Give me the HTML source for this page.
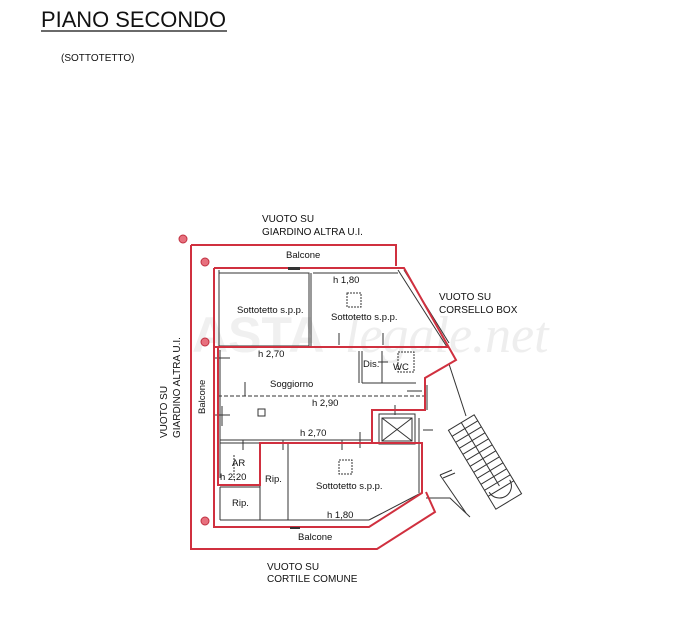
<!DOCTYPE html>
<html><head><meta charset="utf-8"><style>
html,body{margin:0;padding:0;background:#fff;width:683px;height:624px;overflow:hidden}
svg{display:block}
text{font-family:"Liberation Sans",sans-serif;fill:#111}
</style></head><body>
<svg width="683" height="624" viewBox="0 0 683 624" xmlns="http://www.w3.org/2000/svg">
<text x="41" y="27" font-size="22" textLength="185" lengthAdjust="spacingAndGlyphs">PIANO SECONDO</text>
<line x1="41" y1="31" x2="227" y2="31" stroke="#111" stroke-width="1.3"/>
<text x="61" y="61" font-size="10">(SOTTOTETTO)</text>

<text x="192" y="352" font-size="50" font-weight="bold" style="fill:#f0f0f0">ASTA</text>
<text x="345" y="352" font-size="52" font-style="italic" style="fill:#eeeeee;font-family:'Liberation Serif',serif">legale.net</text>

<text x="262" y="222" font-size="10">VUOTO SU</text>
<text x="262" y="235" font-size="10">GIARDINO ALTRA U.I.</text>
<text x="439" y="300" font-size="10">VUOTO SU</text>
<text x="439" y="313" font-size="10">CORSELLO BOX</text>
<text x="267" y="570" font-size="10">VUOTO SU</text>
<text x="267" y="582" font-size="10">CORTILE COMUNE</text>
<text transform="translate(167,438) rotate(-90)" font-size="10">VUOTO SU</text>
<text transform="translate(180,438) rotate(-90)" font-size="10">GIARDINO ALTRA U.I.</text>

<g fill="none" stroke="#333" stroke-width="1">
<rect x="219" y="273" width="90" height="73"/>
<line x1="311" y1="273" x2="311" y2="346"/>
<line x1="313" y1="273" x2="398" y2="273"/>
<line x1="398" y1="270" x2="447" y2="347"/>
<line x1="219" y1="270" x2="219" y2="345"/>
<rect x="347" y="293" width="14" height="14" stroke-dasharray="2,1"/>
<rect x="398" y="352" width="16" height="20" stroke-dasharray="2,1"/>
<line x1="359" y1="351" x2="359" y2="383"/>
<line x1="362" y1="351" x2="362" y2="383"/>
<line x1="362" y1="383" x2="416" y2="383"/>
<line x1="382" y1="351" x2="382" y2="383"/>
<line x1="218" y1="396" x2="425" y2="396" stroke-dasharray="4,2"/>
<line x1="220" y1="350" x2="220" y2="478"/>
<rect x="258" y="409" width="7" height="7"/>
<line x1="220" y1="440" x2="373" y2="440"/>
<line x1="220" y1="443" x2="260" y2="443"/>
<line x1="260" y1="443" x2="260" y2="520"/>
<line x1="288" y1="443" x2="288" y2="520"/>
<line x1="220" y1="487" x2="260" y2="487"/>
<line x1="220" y1="487" x2="220" y2="520"/>
<line x1="220" y1="520" x2="369" y2="520"/>
<line x1="369" y1="520" x2="421" y2="493"/>
<line x1="419" y1="418" x2="419" y2="493"/>
<rect x="339" y="460" width="13" height="14" stroke-dasharray="2,1"/>
<rect x="379" y="414" width="36" height="30"/>
<rect x="382" y="418" width="30" height="23"/>
<line x1="382" y1="418" x2="412" y2="441"/>
<line x1="412" y1="418" x2="382" y2="441"/>
<line x1="234" y1="455" x2="234" y2="480" stroke-dasharray="2,1"/>
<line x1="404" y1="270" x2="449" y2="343"/>
<line x1="449" y1="364" x2="466" y2="416"/>
<line x1="427" y1="385" x2="427" y2="410"/>
<path d="M215,358h15M215,415h15M222,406v20M243,440v10M283,440v10M342,440v10M360,432v16M395,405v10M423,430h10M383,333v12M339,333v12M245,382v14M407,391h15M378,362h10"/>
<g transform="translate(485,462) rotate(-31)">
<rect x="-15" y="-46" width="30" height="92"/>
<path d="M-15,-39h30M-15,-32h30M-15,-25h30M-15,-18h30M-15,-11h30M-15,-4h30M-15,3h30M-15,10h30M-15,17h30M-15,24h30M-15,31h30"/>
<line x1="0" y1="-46" x2="0" y2="28"/>
<path d="M-12,28 a12,12 0 0 0 24,0"/>
</g>
<polyline points="426,498 450,498 470,517"/>
<line x1="440" y1="475" x2="466" y2="513"/>
<line x1="440" y1="475" x2="452" y2="470"/>
<line x1="443" y1="478" x2="455" y2="473"/>
</g>

<g fill="none" stroke="#d0303f" stroke-width="2">
<polyline points="191,245 396,245 396,266"/>
<polyline points="191,245 191,549 377,549 435,512 426,492"/>
<polyline points="214,268 404,268 456,360 425,378 425,410 372,410 372,443 422,443 422,493 369,527 214,527 214,268"/>
<line x1="214" y1="347" x2="449" y2="347"/>
<polyline points="218,348 218,485 260,485 260,443 372,443"/>
</g>
<g fill="#e7707e" stroke="#c03040" stroke-width="1">
<circle cx="183" cy="239" r="4"/>
<circle cx="205" cy="262" r="4"/>
<circle cx="205" cy="342" r="4"/>
<circle cx="205" cy="521" r="4"/>
</g>
<rect x="290" y="527" width="10" height="2" fill="#333"/>
<rect x="288" y="267" width="12" height="3" fill="#333"/>

<text x="286" y="258" font-size="9.5">Balcone</text>
<text x="237" y="313" font-size="9.5">Sottotetto s.p.p.</text>
<text x="331" y="320" font-size="9.5">Sottotetto s.p.p.</text>
<text x="333" y="283" font-size="9.5">h 1,80</text>
<text x="258" y="357" font-size="9.5">h 2,70</text>
<text x="270" y="387" font-size="9.5">Soggiorno</text>
<text x="363" y="367" font-size="9.5">Dis.</text>
<text x="393" y="370" font-size="9.5">WC</text>
<text x="312" y="406" font-size="9.5">h 2,90</text>
<text x="300" y="436" font-size="9.5">h 2,70</text>
<text x="232" y="466" font-size="9.5">AR</text>
<text x="220" y="480" font-size="9.5">h 2,20</text>
<text x="265" y="482" font-size="9.5">Rip.</text>
<text x="232" y="506" font-size="9.5">Rip.</text>
<text x="316" y="489" font-size="9.5">Sottotetto s.p.p.</text>
<text x="327" y="518" font-size="9.5">h 1,80</text>
<text x="298" y="540" font-size="9.5">Balcone</text>
<text transform="translate(205,414) rotate(-90)" font-size="9.5">Balcone</text>
</svg>
</body></html>
